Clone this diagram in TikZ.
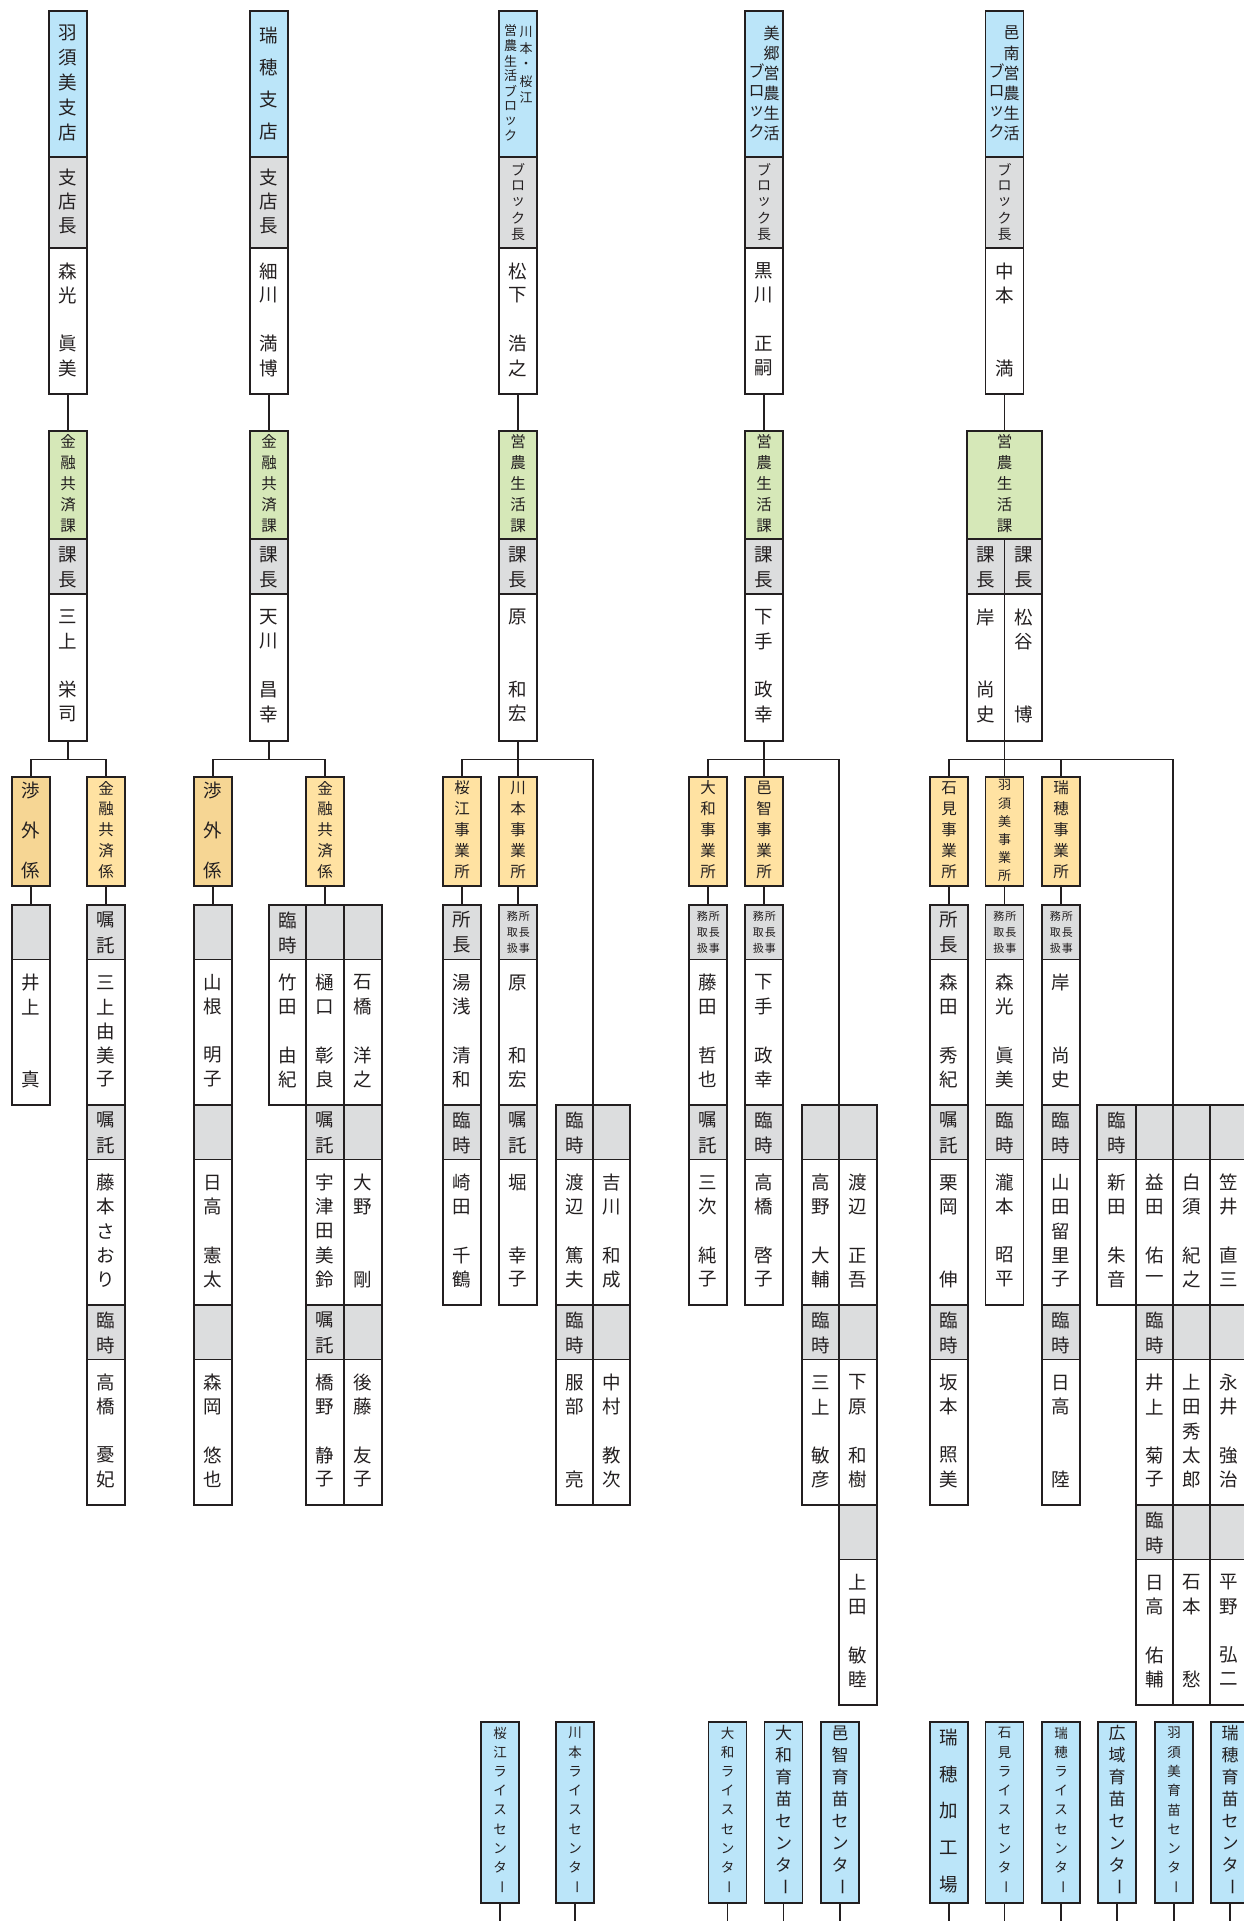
\documentclass[tikz,border=0pt]{standalone}
\usepackage{fontspec}
\usepackage{graphicx}
\setmainfont{Noto Sans CJK JP}
\definecolor{ln}{HTML}{231F20}
\definecolor{bl}{HTML}{BBE5F9}
\definecolor{gr}{HTML}{DCDDDE}
\definecolor{gn}{HTML}{D6E8B8}
\definecolor{orA}{HTML}{FFE2A2}
\definecolor{orB}{HTML}{F6D694}
\tikzset{
  box/.style={draw=ln, line width=1.7pt, inner sep=0pt, outer sep=0pt, rectangle},
  ch/.style={inner sep=0pt, outer sep=0pt, text=ln, anchor=center},
  conn/.style={draw=ln, line width=1.7pt},
}
\newcommand\vbar{\rotatebox[origin=c]{-90}{ー}}
\newcommand\nmfont{\fontsize{18.5}{18.5}\selectfont}
% cell: name, x1, y1, x2, y2, fill
\newcommand\Cell[6]{\node[box, fill=#6, minimum width={(#4)-(#2)}, minimum height={(#5)-(#3)}] (#1) at ({((#2)+(#4))/2},{((#3)+(#5))/2}) {};}
% vertical text evenly distributed: name, x, yfirst, ylast, size, list
\newcommand\VT[6]{%
  \foreach \ch [count=\k] in {#6} {\xdef\vtn{\k}}%
  \foreach \ch [count=\k] in {#6} {%
    \pgfmathsetmacro\vty{(#3)+(\k-1)*((#4)-(#3))/max(\vtn-1,1)}%
    \node[ch,font=\fontsize{#5}{#5}\selectfont] (#1-\k) at (#2,\vty) {\ch};%
  }%
}
% name in white cell: name, x, top, surname, given
\newcommand\NM[5]{%
  \foreach \ch [count=\k] in {#4} {%
    \pgfmathsetmacro\vty{(#3)+23+(\k-1)*24.25}%
    \node[ch,font=\nmfont] (#1-s\k) at (#2,\vty) {\ch};}%
  \foreach \ch [count=\k] in {#5} {\xdef\vtn{\k}}%
  \foreach \ch [count=\k] in {#5} {%
    \pgfmathsetmacro\vty{(#3)+120-(\vtn-\k)*24.25}%
    \node[ch,font=\nmfont] (#1-g\k) at (#2,\vty) {\ch};}%
}
\newcommand\GC[4]{\Cell{#1}{#2}{905+200*(#4-1)}{#3}{959.5+200*(#4-1)}{gr}}
\newcommand\WC[4]{\Cell{#1}{#2}{959.5+200*(#4-1)}{#3}{1105+200*(#4-1)}{white}}
\newcommand\GT[4]{\VT{#1}{#2}{920+200*(#3-1)}{945+200*(#3-1)}{18.5}{#4}}
\newcommand\WN[5]{\NM{#1}{#2}{959.5+200*(#3-1)}{#4}{#5}}
\newcommand\WE[4]{\VT{#1}{#2}{982.5+200*(#3-1)}{1079.5+200*(#3-1)}{18.5}{#4}}
\newcommand\SM[3]{%
  \VT{#1r}{#2+6.3}{916.7+200*(#3-1)}{948.3+200*(#3-1)}{11}{所,長,事}%
  \VT{#1l}{#2-5.7}{916.7+200*(#3-1)}{948.3+200*(#3-1)}{11}{務,取,扱}%
}
\begin{document}
\begin{tikzpicture}[x=1pt,y=-1pt]
\useasboundingbox[fill=white] (0,0) rectangle (1244,1921);
% ---------- top row ----------
\Cell{A1b}{49}{11}{87}{157}{bl}\Cell{A1g}{49}{157}{87}{248}{gr}\Cell{A1w}{49}{248}{87}{394}{white}
\Cell{B1b}{250}{11}{288}{157}{bl}\Cell{B1g}{250}{157}{288}{248}{gr}\Cell{B1w}{250}{248}{288}{394}{white}
\Cell{C1b}{499}{11}{537}{157}{bl}\Cell{C1g}{499}{157}{537}{248}{gr}\Cell{C1w}{499}{248}{537}{394}{white}
\Cell{D1b}{745}{11}{783}{157}{bl}\Cell{D1g}{745}{157}{783}{248}{gr}\Cell{D1w}{745}{248}{783}{394}{white}
\Cell{E1b}{985.5}{11}{1023.5}{157}{bl}\Cell{E1g}{985.5}{157}{1023.5}{248}{gr}\Cell{E1w}{985.5}{248}{1023.5}{394}{white}
% ---------- second row ----------
\Cell{A2n}{49}{431}{87}{539}{gn}\Cell{A2g}{49}{539}{87}{594}{gr}\Cell{A2w}{49}{594}{87}{741}{white}
\Cell{B2n}{250}{431}{288}{539}{gn}\Cell{B2g}{250}{539}{288}{594}{gr}\Cell{B2w}{250}{594}{288}{741}{white}
\Cell{C2n}{499}{431}{537}{539}{gn}\Cell{C2g}{499}{539}{537}{594}{gr}\Cell{C2w}{499}{594}{537}{741}{white}
\Cell{D2n}{745}{431}{783}{539}{gn}\Cell{D2g}{745}{539}{783}{594}{gr}\Cell{D2w}{745}{594}{783}{741}{white}
\Cell{E2n}{967}{431}{1042}{539}{gn}
\Cell{E2gL}{967}{539}{1004.5}{594}{gr}\Cell{E2gR}{1004.5}{539}{1042}{594}{gr}
\Cell{E2wL}{967}{594}{1004.5}{741}{white}\Cell{E2wR}{1004.5}{594}{1042}{741}{white}
% ---------- section boxes ----------
\Cell{Ak1}{12}{777}{50}{886}{orB}\Cell{Ak2}{87}{777}{125}{886}{orA}
\Cell{Bk1}{194}{777}{232}{886}{orB}\Cell{Bk2}{306}{777}{344}{886}{orA}
\Cell{Ck1}{443}{777}{481}{886}{orA}\Cell{Ck2}{499}{777}{537}{886}{orA}
\Cell{Dk1}{689}{777}{727}{886}{orA}\Cell{Dk2}{745}{777}{783}{886}{orA}
\Cell{Ek1}{930}{777}{968}{886}{orA}\Cell{Ek2}{985.5}{777}{1023.5}{886}{orA}\Cell{Ek3}{1042}{777}{1080}{886}{orA}
% ---------- staff tables ----------
% A
\GC{tA1g1}{12}{50}{1}\WC{tA1w1}{12}{50}{1}
\GC{tA2g1}{87}{125}{1}\WC{tA2w1}{87}{125}{1}\GC{tA2g2}{87}{125}{2}\WC{tA2w2}{87}{125}{2}\GC{tA2g3}{87}{125}{3}\WC{tA2w3}{87}{125}{3}
% B
\GC{tB1g1}{194}{232}{1}\WC{tB1w1}{194}{232}{1}\GC{tB1g2}{194}{232}{2}\WC{tB1w2}{194}{232}{2}\GC{tB1g3}{194}{232}{3}\WC{tB1w3}{194}{232}{3}
\GC{tB2g1}{269}{306}{1}\WC{tB2w1}{269}{306}{1}
\GC{tB3g1}{306}{344}{1}\WC{tB3w1}{306}{344}{1}\GC{tB3g2}{306}{344}{2}\WC{tB3w2}{306}{344}{2}\GC{tB3g3}{306}{344}{3}\WC{tB3w3}{306}{344}{3}
\GC{tB4g1}{344}{382}{1}\WC{tB4w1}{344}{382}{1}\GC{tB4g2}{344}{382}{2}\WC{tB4w2}{344}{382}{2}\GC{tB4g3}{344}{382}{3}\WC{tB4w3}{344}{382}{3}
% C
\GC{tC1g1}{443}{481}{1}\WC{tC1w1}{443}{481}{1}\GC{tC1g2}{443}{481}{2}\WC{tC1w2}{443}{481}{2}
\GC{tC2g1}{499}{537}{1}\WC{tC2w1}{499}{537}{1}\GC{tC2g2}{499}{537}{2}\WC{tC2w2}{499}{537}{2}
\GC{tC3g2}{556}{593}{2}\WC{tC3w2}{556}{593}{2}\GC{tC3g3}{556}{593}{3}\WC{tC3w3}{556}{593}{3}
\GC{tC4g2}{593}{630}{2}\WC{tC4w2}{593}{630}{2}\GC{tC4g3}{593}{630}{3}\WC{tC4w3}{593}{630}{3}
% D
\GC{tD1g1}{689}{727}{1}\WC{tD1w1}{689}{727}{1}\GC{tD1g2}{689}{727}{2}\WC{tD1w2}{689}{727}{2}
\GC{tD2g1}{745}{783}{1}\WC{tD2w1}{745}{783}{1}\GC{tD2g2}{745}{783}{2}\WC{tD2w2}{745}{783}{2}
\GC{tD3g2}{802}{839}{2}\WC{tD3w2}{802}{839}{2}\GC{tD3g3}{802}{839}{3}\WC{tD3w3}{802}{839}{3}
\GC{tD4g2}{839}{877}{2}\WC{tD4w2}{839}{877}{2}\GC{tD4g3}{839}{877}{3}\WC{tD4w3}{839}{877}{3}\GC{tD4g4}{839}{877}{4}\WC{tD4w4}{839}{877}{4}
% E
\GC{tE1g1}{930}{968}{1}\WC{tE1w1}{930}{968}{1}\GC{tE1g2}{930}{968}{2}\WC{tE1w2}{930}{968}{2}\GC{tE1g3}{930}{968}{3}\WC{tE1w3}{930}{968}{3}
\GC{tE2g1}{985.5}{1023.5}{1}\WC{tE2w1}{985.5}{1023.5}{1}\GC{tE2g2}{985.5}{1023.5}{2}\WC{tE2w2}{985.5}{1023.5}{2}
\GC{tE3g1}{1042}{1080}{1}\WC{tE3w1}{1042}{1080}{1}\GC{tE3g2}{1042}{1080}{2}\WC{tE3w2}{1042}{1080}{2}\GC{tE3g3}{1042}{1080}{3}\WC{tE3w3}{1042}{1080}{3}
\GC{tE4g2}{1097}{1136}{2}\WC{tE4w2}{1097}{1136}{2}
\GC{tE5g2}{1136}{1173}{2}\WC{tE5w2}{1136}{1173}{2}\GC{tE5g3}{1136}{1173}{3}\WC{tE5w3}{1136}{1173}{3}\GC{tE5g4}{1136}{1173}{4}\WC{tE5w4}{1136}{1173}{4}
\GC{tE6g2}{1173}{1210}{2}\WC{tE6w2}{1173}{1210}{2}\GC{tE6g3}{1173}{1210}{3}\WC{tE6w3}{1173}{1210}{3}\GC{tE6g4}{1173}{1210}{4}\WC{tE6w4}{1173}{1210}{4}
\GC{tE7g2}{1210}{1248}{2}\WC{tE7w2}{1210}{1248}{2}\GC{tE7g3}{1210}{1248}{3}\WC{tE7w3}{1210}{1248}{3}\GC{tE7g4}{1210}{1248}{4}\WC{tE7w4}{1210}{1248}{4}
% ---------- bottom facility boxes ----------
\Cell{bot1}{481}{1722}{519}{1903}{bl}
\Cell{bot2}{556}{1722}{594}{1903}{bl}
\Cell{bot3}{708.5}{1722}{746.5}{1903}{bl}
\Cell{bot4}{764.5}{1722}{802.5}{1903}{bl}
\Cell{bot5}{821}{1722}{859}{1903}{bl}
\Cell{bot6}{930}{1722}{968}{1903}{bl}
\Cell{bot7}{985.5}{1722}{1023.5}{1903}{bl}
\Cell{bot8}{1042}{1722}{1080}{1903}{bl}
\Cell{bot9}{1098}{1722}{1136}{1903}{bl}
\Cell{bot10}{1155}{1722}{1193}{1903}{bl}
\Cell{bot11}{1211}{1722}{1249}{1903}{bl}
% ---------- connectors ----------
\coordinate (Abar) at (68,759.5);
\coordinate (Bbar) at (269,759.5);
\coordinate (Cbar) at (518,759.5);
\coordinate (Dbar) at (764,759.5);
\coordinate (Ebar) at (1004.5,759.5);
\coordinate (bottom) at (0,1930);
\draw[conn] (A1w.south) -- (A2n.north);
\draw[conn] (B1w.south) -- (B2n.north);
\draw[conn] (C1w.south) -- (C2n.north);
\draw[conn] (D1w.south) -- (D2n.north);
\draw[conn] (E1w.south) -- (E2n.north);
\draw[conn] (A2w.south) -- (Abar);
\draw[conn] (Ak1.north) |- (Abar) -| (Ak2.north);
\draw[conn] (B2w.south) -- (Bbar);
\draw[conn] (Bk1.north) |- (Bbar) -| (Bk2.north);
\draw[conn] (C2w.south) -- (Ck2.north);
\draw[conn] (Ck1.north) |- (Cbar) -| (tC3g2.north east);
\draw[conn] (D2w.south) -- (Dk2.north);
\draw[conn] (Dk1.north) |- (Dbar) -| (tD3g2.north east);
\draw[conn] (E2wL.south east) -- (Ek2.north);
\draw[conn] (Ek1.north) |- (Ebar) -| (tE5g2.north east);
\draw[conn] (Ek3.north) -- (Ek3.north |- Ebar);
\draw[conn] (Ak1.south) -- (tA1g1.north);
\draw[conn] (Ak2.south) -- (tA2g1.north);
\draw[conn] (Bk1.south) -- (tB1g1.north);
\draw[conn] (Bk2.south) -- (tB3g1.north);
\draw[conn] (Ck1.south) -- (tC1g1.north);
\draw[conn] (Ck2.south) -- (tC2g1.north);
\draw[conn] (Dk1.south) -- (tD1g1.north);
\draw[conn] (Dk2.south) -- (tD2g1.north);
\draw[conn] (Ek1.south) -- (tE1g1.north);
\draw[conn] (Ek2.south) -- (tE2g1.north);
\draw[conn] (Ek3.south) -- (tE3g1.north);
\foreach \i in {1,...,11} {\draw[conn] (bot\i.south) -- (bot\i.south |- bottom);}
% ---------- texts: top row ----------
\VT{A1bt}{68}{33}{132}{18.5}{羽,須,美,支,店}
\VT{B1bt}{269}{35}{131}{18.5}{瑞,穂,支,店}
\VT{C1bta}{526}{32}{98}{13}{川,本,・,桜,江}
\VT{C1btb}{510.5}{31}{136}{13}{営,農,生,活,ブ,ロ,ッ,ク}
\VT{D1bta}{771.5}{33}{133}{16}{美,郷,営,農,生,活}
\VT{D1btb}{756.5}{71}{131}{16}{ブ,ロ,ッ,ク}
\VT{E1bta}{1011.5}{33}{133}{16}{邑,南,営,農,生,活}
\VT{E1btb}{996.5}{71}{131}{16}{ブ,ロ,ッ,ク}
\VT{A1gt}{68}{177}{226}{18.5}{支,店,長}
\VT{B1gt}{269}{177}{226}{18.5}{支,店,長}
\VT{C1gt}{518}{170}{234}{14}{ブ,ロ,ッ,ク,長}
\VT{D1gt}{764}{170}{234}{14}{ブ,ロ,ッ,ク,長}
\VT{E1gt}{1004.5}{170}{234}{14}{ブ,ロ,ッ,ク,長}
\NM{A1wt}{68}{248}{森,光}{眞,美}
\NM{B1wt}{269}{248}{細,川}{満,博}
\NM{C1wt}{518}{248}{松,下}{浩,之}
\NM{D1wt}{764}{248}{黒,川}{正,嗣}
\NM{E1wt}{1004.5}{248}{中,本}{満}
% ---------- texts: second row ----------
\VT{A2nt}{68}{441.5}{526}{15.5}{金,融,共,済,課}
\VT{B2nt}{269}{441.5}{526}{15.5}{金,融,共,済,課}
\VT{C2nt}{518}{441.5}{526}{15.5}{営,農,生,活,課}
\VT{D2nt}{764}{441.5}{526}{15.5}{営,農,生,活,課}
\VT{E2nt}{1004.5}{441.5}{526}{15.5}{営,農,生,活,課}
\VT{A2gt}{68}{555}{580}{18.5}{課,長}
\VT{B2gt}{269}{555}{580}{18.5}{課,長}
\VT{C2gt}{518}{555}{580}{18.5}{課,長}
\VT{D2gt}{764}{555}{580}{18.5}{課,長}
\VT{E2gLt}{985.75}{555}{580}{18.5}{課,長}
\VT{E2gRt}{1023.25}{555}{580}{18.5}{課,長}
\NM{A2wt}{68}{594}{三,上}{栄,司}
\NM{B2wt}{269}{594}{天,川}{昌,幸}
\NM{C2wt}{518}{594}{原}{和,宏}
\NM{D2wt}{764}{594}{下,手}{政,幸}
\NM{E2wLt}{985.75}{594}{岸}{尚,史}
\NM{E2wRt}{1023.25}{594}{松,谷}{博}
% ---------- texts: section boxes ----------
\VT{Ak1t}{31}{790}{871}{18.5}{渉,外,係}
\VT{Ak2t}{106}{788}{872}{15.5}{金,融,共,済,係}
\VT{Bk1t}{213}{790}{871}{18.5}{渉,外,係}
\VT{Bk2t}{325}{788}{872}{15.5}{金,融,共,済,係}
\VT{Ck1t}{462}{788}{872}{15.5}{桜,江,事,業,所}
\VT{Ck2t}{518}{788}{872}{15.5}{川,本,事,業,所}
\VT{Dk1t}{708}{788}{872}{15.5}{大,和,事,業,所}
\VT{Dk2t}{764}{788}{872}{15.5}{邑,智,事,業,所}
\VT{Ek1t}{949}{788}{872}{15.5}{石,見,事,業,所}
\VT{Ek2t}{1004.5}{785}{876}{13}{羽,須,美,事,業,所}
\VT{Ek3t}{1061}{788}{872}{15.5}{瑞,穂,事,業,所}
% ---------- texts: tables ----------
\WN{tA1w1t}{31}{1}{井,上}{真}
\GT{tA2g1t}{106}{1}{嘱,託}\WN{tA2w1t}{106}{1}{三,上}{由,美,子}
\GT{tA2g2t}{106}{2}{嘱,託}\WE{tA2w2t}{106}{2}{藤,本,さ,お,り}
\GT{tA2g3t}{106}{3}{臨,時}\WN{tA2w3t}{106}{3}{高,橋}{憂,妃}
\WN{tB1w1t}{213}{1}{山,根}{明,子}
\WN{tB1w2t}{213}{2}{日,高}{憲,太}
\WN{tB1w3t}{213}{3}{森,岡}{悠,也}
\GT{tB2g1t}{287.5}{1}{臨,時}\WN{tB2w1t}{287.5}{1}{竹,田}{由,紀}
\WN{tB3w1t}{325}{1}{樋,口}{彰,良}
\GT{tB3g2t}{325}{2}{嘱,託}\WE{tB3w2t}{325}{2}{宇,津,田,美,鈴}
\GT{tB3g3t}{325}{3}{嘱,託}\WN{tB3w3t}{325}{3}{橋,野}{静,子}
\WN{tB4w1t}{363}{1}{石,橋}{洋,之}
\WN{tB4w2t}{363}{2}{大,野}{剛}
\WN{tB4w3t}{363}{3}{後,藤}{友,子}
\GT{tC1g1t}{462}{1}{所,長}\WN{tC1w1t}{462}{1}{湯,浅}{清,和}
\GT{tC1g2t}{462}{2}{臨,時}\WN{tC1w2t}{462}{2}{崎,田}{千,鶴}
\SM{tC2g1t}{518}{1}\WN{tC2w1t}{518}{1}{原}{和,宏}
\GT{tC2g2t}{518}{2}{嘱,託}\WN{tC2w2t}{518}{2}{堀}{幸,子}
\GT{tC3g2t}{574.5}{2}{臨,時}\WN{tC3w2t}{574.5}{2}{渡,辺}{篤,夫}
\GT{tC3g3t}{574.5}{3}{臨,時}\WN{tC3w3t}{574.5}{3}{服,部}{亮}
\WN{tC4w2t}{611.5}{2}{吉,川}{和,成}
\WN{tC4w3t}{611.5}{3}{中,村}{教,次}
\SM{tD1g1t}{708}{1}\WN{tD1w1t}{708}{1}{藤,田}{哲,也}
\GT{tD1g2t}{708}{2}{嘱,託}\WN{tD1w2t}{708}{2}{三,次}{純,子}
\SM{tD2g1t}{764}{1}\WN{tD2w1t}{764}{1}{下,手}{政,幸}
\GT{tD2g2t}{764}{2}{臨,時}\WN{tD2w2t}{764}{2}{高,橋}{啓,子}
\WN{tD3w2t}{820.5}{2}{高,野}{大,輔}
\GT{tD3g3t}{820.5}{3}{臨,時}\WN{tD3w3t}{820.5}{3}{三,上}{敏,彦}
\WN{tD4w2t}{858}{2}{渡,辺}{正,吾}
\WN{tD4w3t}{858}{3}{下,原}{和,樹}
\WN{tD4w4t}{858}{4}{上,田}{敏,睦}
\GT{tE1g1t}{949}{1}{所,長}\WN{tE1w1t}{949}{1}{森,田}{秀,紀}
\GT{tE1g2t}{949}{2}{嘱,託}\WN{tE1w2t}{949}{2}{栗,岡}{伸}
\GT{tE1g3t}{949}{3}{臨,時}\WN{tE1w3t}{949}{3}{坂,本}{照,美}
\SM{tE2g1t}{1004.5}{1}\WN{tE2w1t}{1004.5}{1}{森,光}{眞,美}
\GT{tE2g2t}{1004.5}{2}{臨,時}\WN{tE2w2t}{1004.5}{2}{瀧,本}{昭,平}
\SM{tE3g1t}{1061}{1}\WN{tE3w1t}{1061}{1}{岸}{尚,史}
\GT{tE3g2t}{1061}{2}{臨,時}\WE{tE3w2t}{1061}{2}{山,田,留,里,子}
\GT{tE3g3t}{1061}{3}{臨,時}\WN{tE3w3t}{1061}{3}{日,高}{陸}
\GT{tE4g2t}{1116.5}{2}{臨,時}\WN{tE4w2t}{1116.5}{2}{新,田}{朱,音}
\WN{tE5w2t}{1154.5}{2}{益,田}{佑,一}
\GT{tE5g3t}{1154.5}{3}{臨,時}\WN{tE5w3t}{1154.5}{3}{井,上}{菊,子}
\GT{tE5g4t}{1154.5}{4}{臨,時}\WN{tE5w4t}{1154.5}{4}{日,高}{佑,輔}
\WN{tE6w2t}{1191.5}{2}{白,須}{紀,之}
\WE{tE6w3t}{1191.5}{3}{上,田,秀,太,郎}
\WN{tE6w4t}{1191.5}{4}{石,本}{愁}
\WN{tE7w2t}{1229}{2}{笠,井}{直,三}
\WN{tE7w3t}{1229}{3}{永,井}{強,治}
\WN{tE7w4t}{1229}{4}{平,野}{弘,二}
% ---------- texts: bottom boxes ----------
\VT{bot1t}{500}{1733}{1887}{13.5}{桜,江,ラ,イ,ス,セ,ン,タ,\vbar}
\VT{bot2t}{575}{1733}{1887}{13.5}{川,本,ラ,イ,ス,セ,ン,タ,\vbar}
\VT{bot3t}{727.5}{1733}{1887}{13.5}{大,和,ラ,イ,ス,セ,ン,タ,\vbar}
\VT{bot4t}{783.5}{1733}{1887}{17}{大,和,育,苗,セ,ン,タ,\vbar}
\VT{bot5t}{840}{1733}{1887}{17}{邑,智,育,苗,セ,ン,タ,\vbar}
\VT{bot6t}{949}{1737}{1885}{18.5}{瑞,穂,加,工,場}
\VT{bot7t}{1004.5}{1733}{1887}{13.5}{石,見,ラ,イ,ス,セ,ン,タ,\vbar}
\VT{bot8t}{1061}{1733}{1887}{13.5}{瑞,穂,ラ,イ,ス,セ,ン,タ,\vbar}
\VT{bot9t}{1117}{1733}{1887}{17}{広,域,育,苗,セ,ン,タ,\vbar}
\VT{bot10t}{1174}{1733}{1887}{13.5}{羽,須,美,育,苗,セ,ン,タ,\vbar}
\VT{bot11t}{1230}{1733}{1887}{17}{瑞,穂,育,苗,セ,ン,タ,\vbar}
\end{tikzpicture}
\end{document}
